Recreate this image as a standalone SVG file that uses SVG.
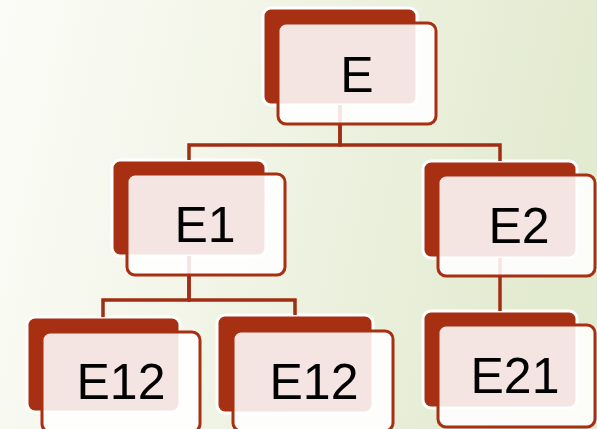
<svg xmlns="http://www.w3.org/2000/svg" width="597" height="429" viewBox="0 0 597 429">
  <defs>
    <linearGradient id="bg" x1="0" y1="0" x2="1" y2="0.15">
      <stop offset="0" stop-color="#fbfcf7"/>
      <stop offset="0.3" stop-color="#f5f7ec"/>
      <stop offset="1" stop-color="#e2eacf"/>
    </linearGradient>
  </defs>
  <style>
    .back { fill: #a72f12; stroke: #ffffff; stroke-width: 3; }
    .front { fill: #ffffff; fill-opacity: 0.88; stroke: #a72f12; stroke-width: 3; }
    .wire { fill: none; stroke: #a02e14; stroke-width: 3.5; stroke-linejoin: miter; }
    .label { font-family: "Liberation Sans", Arial, sans-serif; font-size: 50px; fill: #000000; text-anchor: middle; }
  </style>

  <rect width="597" height="429" fill="url(#bg)"/>

  <!-- back plates -->
  <g id="backs">
    <rect class="back" x="263" y="8" width="154" height="97" rx="8"/>
    <rect class="back" x="112" y="160" width="154" height="96" rx="8"/>
    <rect class="back" x="423" y="161" width="154" height="97" rx="8"/>
    <rect class="back" x="27" y="317" width="153" height="95" rx="8"/>
    <rect class="back" x="217" y="315" width="156" height="98" rx="8"/>
    <rect class="back" x="423" y="311" width="154" height="97" rx="8"/>
  </g>

  <!-- connectors -->
  <g id="connectors">
    <path class="wire" d="M340,105 V145 H189 V160"/>
    <path class="wire" d="M340,105 V145 H500 V161"/>
    <path class="wire" d="M189,256 V300 H103 V317"/>
    <path class="wire" d="M189,256 V300 H295 V315"/>
    <path class="wire" d="M500,258 V311"/>
  </g>

  <g id="node-E">
    <rect class="front" x="278" y="23" width="158" height="101" rx="8"/>
    <text class="label" x="357" y="92">E</text>
  </g>
  <g id="node-E1">
    <rect class="front" x="127" y="174" width="158" height="101" rx="8"/>
    <text class="label" x="205" y="242">E1</text>
  </g>
  <g id="node-E2">
    <rect class="front" x="438" y="175" width="157" height="101" rx="8"/>
    <text class="label" x="519" y="243">E2</text>
  </g>
  <g id="node-E12a">
    <rect class="front" x="42" y="332" width="158" height="100" rx="8"/>
    <text class="label" x="121" y="399">E12</text>
  </g>
  <g id="node-E12b">
    <rect class="front" x="233" y="331" width="160" height="100" rx="8"/>
    <text class="label" x="314" y="399">E12</text>
  </g>
  <g id="node-E21">
    <rect class="front" x="438" y="325" width="157" height="102" rx="8"/>
    <text class="label" x="515" y="393">E21</text>
  </g>
</svg>
